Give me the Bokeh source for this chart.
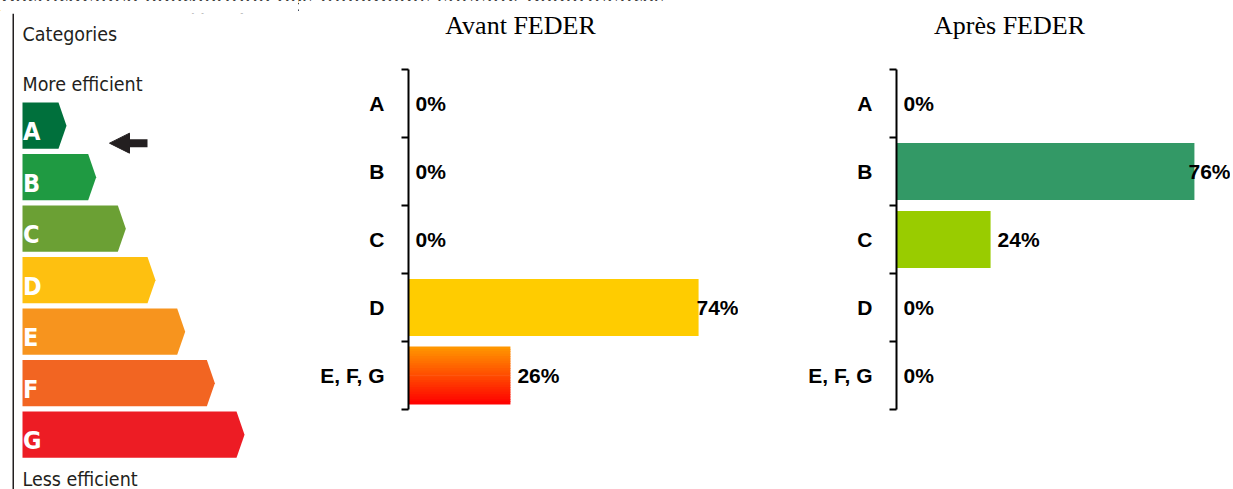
from bokeh.plotting import figure
from bokeh.models import (Range1d, FixedTicker, LinearAxis, ColumnDataSource, Div,
                          Arrow, NormalHead, Span)
from bokeh.layouts import row, column
from bokeh.core.properties import value
from bokeh.embed import file_html
from bokeh.resources import INLINE

# ---------------- data ----------------
main_title = "Performance énergétique des logements sociaux bénéficiaires"
scale_header = "Categories"
scale_top_label = "More efficient"
scale_bottom_label = "Less efficient"
scale_classes = ["A", "B", "C", "D", "E", "F", "G"]
scale_colors = ["#00703c", "#1f9a42", "#6ba034", "#fec010", "#f7941e", "#f26522", "#ed1c24"]

categories = ["A", "B", "C", "D", "E, F, G"]
bar_colors = ["#00703c", "#339966", "#99cc00", "#ffcc00", "gradient"]
gradient_top = (255, 153, 0)
gradient_bottom = (255, 0, 0)

avant_title = "Avant FEDER"
avant_values = [0, 0, 0, 74, 26]
apres_title = "Après FEDER"
apres_values = [0, 76, 24, 0, 0]

# ---------------- styles ----------------
NARROW = "'Liberation Sans Narrow', 'Arial Narrow', 'DejaVu Sans Condensed', sans-serif"
SANS = "'Liberation Sans', Arial, sans-serif"
SERIF = "'Liberation Serif', 'Times New Roman', serif"
INK = "#231f20"
FIG_H = 489
BORDER_TOP = 13          # shared top border (row aligns frames)
FRAME_H = FIG_H - BORDER_TOP

# ---------------- left: energy scale graphic ----------------
ROW_PX = 51.5
LF_W = 298
lf_bl = 12
lf_fw = LF_W - lf_bl
first_row_px = 89
ly_top = -first_row_px / ROW_PX
ly_bot = ly_top + FRAME_H / ROW_PX

lf = figure(width=LF_W, height=FIG_H, x_range=Range1d(0, lf_fw),
            y_range=Range1d(ly_bot, ly_top), x_axis_location=None, y_axis_location=None,
            min_border_left=lf_bl, min_border_right=0, min_border_top=BORDER_TOP,
            min_border_bottom=0, output_backend="svg", toolbar_location=None,
            outline_line_color=None)
lf.grid.visible = False

x0, tip0, step, notch, rh = 10, 44, 29.67, 8, 0.9
xs, ys = [], []
for i, c in enumerate(scale_classes):
    tip = x0 + tip0 + i * step
    body = tip - notch
    xs.append([x0, body, tip, body, x0])
    ys.append([i, i, i + rh / 2, i + rh, i + rh])
lf.patches(xs, ys, fill_color=scale_colors, line_color=None)
lf.text(x=[x0 + 0.5] * len(scale_classes),
        y=[i + rh - 17 / ROW_PX for i in range(len(scale_classes))],
        text=scale_classes, text_color="white", text_font=value(NARROW),
        text_font_style="bold", text_font_size="25px", text_baseline="middle")
lf.text(x=[x0] * 3, y=[-1.313, -0.342, 7.33],
        text=[scale_header, scale_top_label, scale_bottom_label],
        text_color=INK, text_font=value(NARROW), text_font_size="19.5px",
        text_baseline="middle")
lf.add_layout(Arrow(x_start=135, y_start=0.79, x_end=97, y_end=0.79, line_width=8,
                    line_color=INK,
                    end=NormalHead(size=20, fill_color=INK, line_color=INK)))
lf.add_layout(Span(location=0.5, dimension="height", line_color=INK, line_width=2))


# ---------------- bar panels ----------------
def lerp(a, b, t):
    return "#%02x%02x%02x" % tuple(int(round(a[k] + (b[k] - a[k]) * t)) for k in range(3))


def bar_panel(title, values, fig_w, border_left, frame_w, title_dx):
    ppu = 3.92
    x_end = frame_w / ppu
    axis_top_px, axis_h = 69, 340     # page y of the first boundary tick, axis length
    n = len(categories)
    unit = axis_h / n
    y_top = 0.5 - (axis_top_px - BORDER_TOP) / unit
    y_bot = y_top + FRAME_H / unit
    centers = [i + 1 for i in range(n)]
    bounds = [i + 0.5 for i in range(n + 1)]
    bh = 0.84

    p = figure(width=fig_w, height=FIG_H, x_range=Range1d(0, x_end),
               y_range=Range1d(y_bot, y_top), x_axis_location=None, y_axis_location=None,
               min_border_left=border_left, min_border_right=0, min_border_top=BORDER_TOP,
               min_border_bottom=0, output_backend="svg", toolbar_location=None,
               outline_line_color=None)
    p.grid.visible = False

    solid = dict(y=[], right=[], color=[])
    for c, v, col in zip(centers, values, bar_colors):
        if v <= 0:
            continue
        if col == "gradient":
            N = 24
            sh = bh / N
            for k in range(N):
                p.hbar(y=c - bh / 2 + (k + 0.5) * sh, left=0, right=v, height=sh * 1.3,
                       fill_color=lerp(gradient_top, gradient_bottom, (k + 0.5) / N),
                       line_color=None)
        else:
            solid["y"].append(c)
            solid["right"].append(v)
            solid["color"].append(col)
    p.hbar(y="y", left=0, right="right", height=bh, fill_color="color", line_color=None,
           source=ColumnDataSource(solid))

    # data labels
    lab_w, pad = 44, 7
    lx, align, off = [], [], []
    for v in values:
        if v * ppu + pad + lab_w > frame_w:
            lx.append(x_end); align.append("right"); off.append(0)
        else:
            lx.append(v); align.append("left"); off.append(pad)
    p.text(x=lx, y=centers, text=[f"{v}%" for v in values], text_align=align,
           x_offset=off, text_baseline="middle", text_font=value(SANS),
           text_font_style="bold", text_font_size="21px", text_color="black")

    # title
    p.text(x=[title_dx / ppu], y=[y_top + (25 - BORDER_TOP) / unit], text=[title],
           text_align="center", text_baseline="middle", text_font=value(SERIF),
           text_font_size="26px", text_color="black")

    # category axis: labels at centres, boundary ticks as minor ticks
    ax = LinearAxis(ticker=FixedTicker(ticks=centers, minor_ticks=bounds),
                    bounds=(0.5, n + 0.5),
                    major_label_overrides={c: t for c, t in zip(centers, categories)},
                    major_tick_out=0, major_tick_in=0, minor_tick_out=7, minor_tick_in=0,
                    minor_tick_line_width=2, minor_tick_line_color="black",
                    axis_line_width=2, axis_line_color="black",
                    major_label_standoff=17,
                    major_label_text_font=SANS, major_label_text_font_style="bold",
                    major_label_text_font_size="21px", major_label_text_color="black")
    p.add_layout(ax, "left")
    return p


mf = bar_panel(avant_title, avant_values, 440, 110, 330, 112)
rf = bar_panel(apres_title, apres_values, 492, 158, 334, 113)

head = Div(text=main_title, width=700, height=0, margin=0,
           styles={"overflow": "visible", "white-space": "nowrap",
                   "font-family": SERIF, "font-size": "27px", "line-height": "26px",
                   "transform": "translateY(-11px)", "color": "black"})

layout = column(head, row(lf, mf, rf), spacing=0)
open("out.html", "w").write(file_html(layout, INLINE))
